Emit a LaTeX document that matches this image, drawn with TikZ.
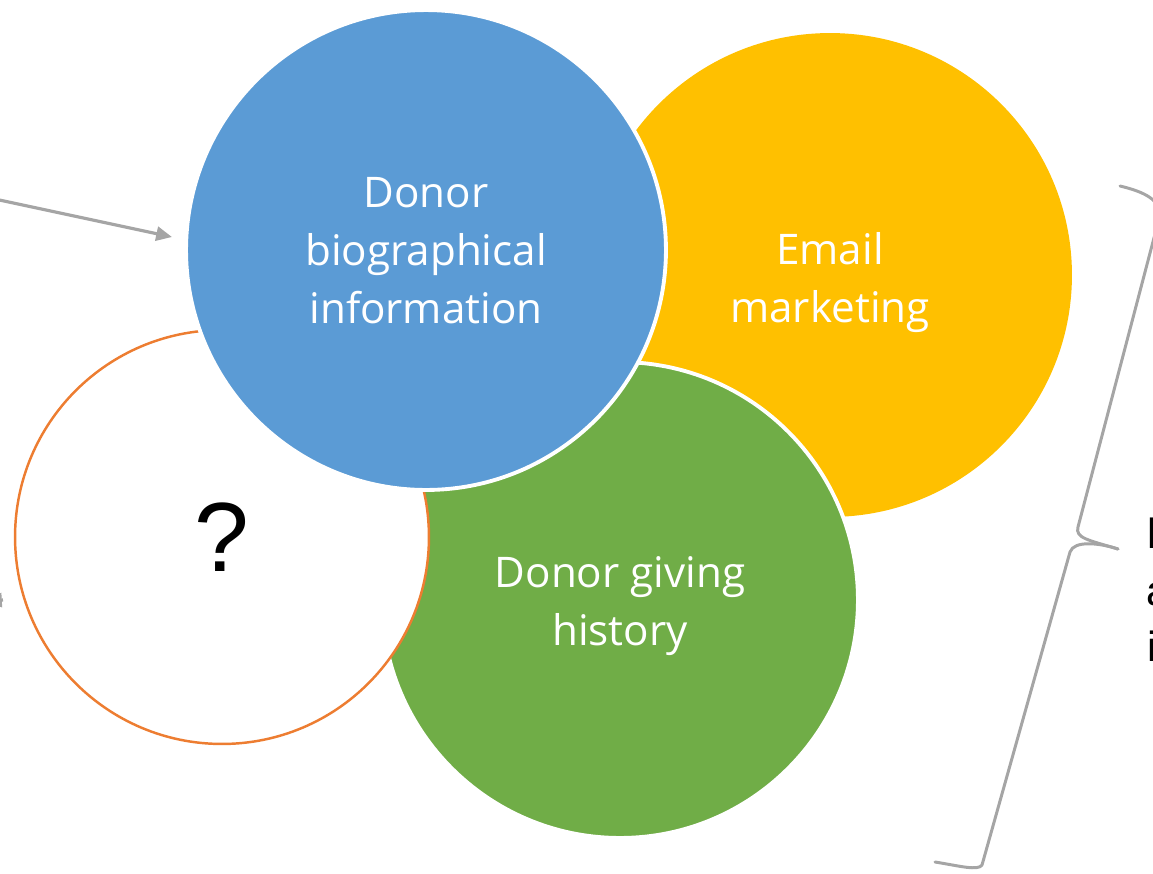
\documentclass[tikz,border=0pt]{standalone}
\usepackage{fontspec}
\setmainfont{Open Sans}
\newfontfamily\arialfont{Liberation Sans}
\usetikzlibrary{arrows.meta}
\definecolor{bubbleblue}{HTML}{5B9BD5}
\definecolor{bubbleyellow}{HTML}{FFC000}
\definecolor{bubblegreen}{HTML}{70AD47}
\definecolor{bubbleorange}{HTML}{ED7D31}
\definecolor{linegray}{HTML}{A5A5A5}
\tikzset{
  bubble/.style={circle, inner sep=0pt, outer sep=0pt},
  bubbletext/.style={align=center, inner sep=0pt, text=white,
    font=\fontsize{24}{33}\selectfont},
  cutline/.style={draw=white, line width=2.2pt},
  pointer/.style={draw=linegray, line width=1.8pt,
    -{Triangle[length=9pt,width=8pt]}},
  bracket/.style={draw=linegray, line width=1.7pt, line join=round, line cap=round},
  sidetext/.style={anchor=base west, inner sep=0pt, text=black,
    font=\arialfont\fontsize{24}{33}\selectfont}
}
\begin{document}
\begin{tikzpicture}[x=0.02cm, y=-0.02cm]
  \useasboundingbox (0,0) rectangle (1153,873);
  \clip (0,0) rectangle (1153,873);

  % overlapping bubbles, back to front
  \node[bubble, fill=bubbleyellow, minimum size=9.68cm] (email) at (830,275) {};
  \node[bubbletext] (emailtext) at ([yshift=-0.16cm]email.center) {Email\\marketing};

  \node[bubble, fill=bubblegreen, cutline, minimum size=9.52cm] (giving) at (620,600) {};
  \node[bubbletext] (givingtext) at ([yshift=-0.12cm]giving.center) {Donor giving\\history};

  \node[bubble, fill=white, draw=bubbleorange, line width=1.4pt, minimum size=8.28cm,
    text=black, font=\arialfont\fontsize{56}{60}\selectfont] (unknown) at (222,537) {?};

  \node[bubble, fill=bubbleblue, cutline, minimum size=9.6cm] (bio) at (426,250) {};
  \node[bubbletext] (biotext) at ([yshift=-0.02cm]bio.center)
    {Donor\\biographical\\information};

  % pointers coming in from the left
  \coordinate (inA) at (-10,198);
  \coordinate (tipA) at (172,237);
  \draw[pointer] (inA) -- (tipA);
  \coordinate (inB) at (3,600);
  \coordinate (tipB) at (-14,601);
  \draw[pointer] (inB) -- (tipB);

  % slanted brace on the right
  \coordinate (bTop) at (1120,186);
  \coordinate (bCornerTop) at (1160,215);
  \coordinate (bUpper) at (1078,527);
  \coordinate (bTip) at (1118,549);
  \coordinate (bLower) at (1070,552);
  \coordinate (bCornerBot) at (982,865);
  \coordinate (bBot) at (935,862);
  \draw[bracket] (bTop) .. controls (1145,192) and (1160,200) .. (bCornerTop)
    -- (bUpper) .. controls (1075,538) and (1088,540) .. (bTip);
  \draw[bracket] (bTip) .. controls (1100,543) and (1074,540) .. (bLower)
    -- (bCornerBot) .. controls (978,871) and (960,866) .. (bBot);

  % text beside the brace
  \node[sidetext] (side1) at (1147,548) {l};
  \node[sidetext] (side2) at (1146,605) {a};
  \node[sidetext] (side3) at (1147,661) {i};
\end{tikzpicture}
\end{document}
